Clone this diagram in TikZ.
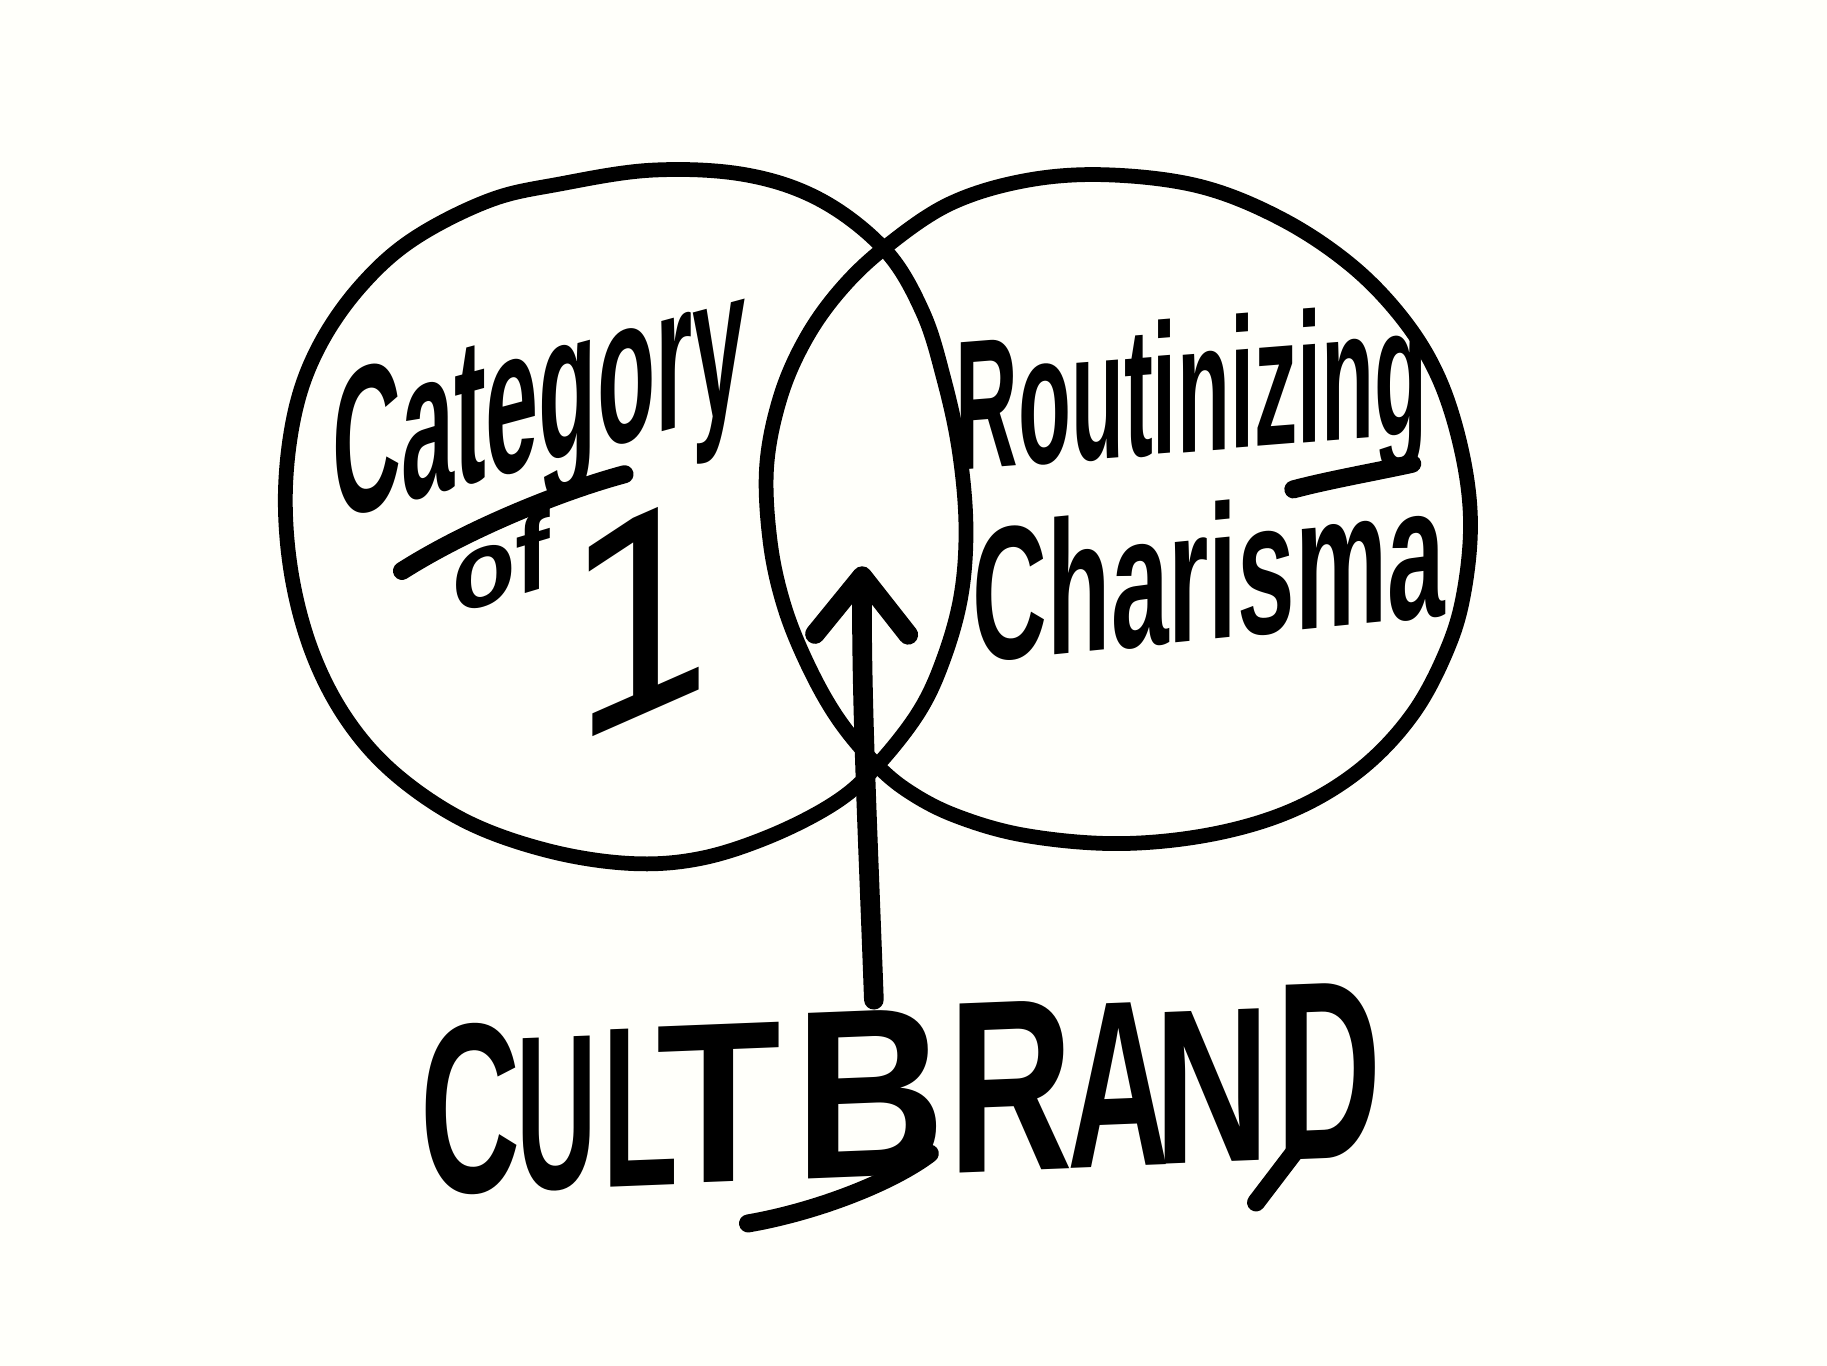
\documentclass[tikz,border=0pt]{standalone}
\usepackage{fontspec}
\setmainfont{Liberation Sans}
\newfontfamily\onefont{DejaVu Sans}
\usetikzlibrary{arrows.meta}
\definecolor{paper}{RGB}{255,255,250}
\newcommand{\lt}[3]{\resizebox{#1cm}{#2cm}{#3}}
\begin{document}
\begin{tikzpicture}[x=0.01cm,y=-0.01cm,
  ring/.style={line width=3.6pt, line join=round, line cap=round},
  word/.style={inner sep=0pt, outer sep=0pt, transform shape, font=\bfseries},
  pen/.style={line width=4.4pt, line cap=round, line join=round}]
\fill[paper] (0,0) rectangle (1568,1172);
\useasboundingbox (0,0) rectangle (1568,1172);
% left circle
\draw[ring] plot[smooth cycle, tension=0.6] coordinates {(480,158) (560,146) (640,150) (705,172) (760,215) (792,268) (810,325) (823,385) (829,450) (825,510) (810,565) (788,612) (750,660) (715,690) (660,718) (600,737) (540,741) (470,730) (400,705) (340,665) (298,618) (268,560) (250,492) (245,420) (254,350) (275,295) (310,245) (355,205) (420,172)};
% right circle
\draw[ring] plot[smooth cycle, tension=0.6] coordinates {(760,212) (815,175) (880,155) (950,150) (1030,160) (1100,188) (1160,228) (1205,275) (1235,325) (1254,385) (1262,445) (1257,505) (1243,555) (1213,612) (1168,660) (1110,695) (1040,716) (960,724) (880,717) (820,700) (778,678) (748,652) (718,615) (693,570) (673,520) (661,465) (658,400) (670,340) (692,290) (722,248)};
% texts
\node[word, anchor=base west, yslant=0.27] (cat) at (285,447) {\lt{3.55}{1.25}{Category}};
\node[word, anchor=base west, yslant=0.3] (of) at (388,528) {\lt{0.84}{0.68}{of}};
\node[word, font=\mdseries, anchor=base, yslant=0.44] (one) at (551,614) {\lt{1.38}{1.72}{\onefont 1}};
\node[word, anchor=base west, yslant=0.08] (rout) at (820,404) {\lt{4.05}{1.15}{Routinizing}};
\node[word, anchor=base west, yslant=0.1] (char) at (835,569) {\lt{4.05}{1.18}{Charisma}};
\node[word, anchor=base west, yslant=0.04] (brand) at (361,1025) {%
  \lt{0.86}{1.45}{C}\hspace{-0.04cm}\lt{0.69}{1.3}{U}\hspace{0.05cm}\lt{0.65}{1.35}{L}\hspace{-0.19cm}\lt{1.07}{1.35}{T}%
  \hspace{0.12cm}%
  \lt{1.3}{1.42}{B}\hspace{0.02cm}\lt{1.07}{1.45}{R}\hspace{-0.05cm}\lt{0.88}{1.4}{A}\hspace{-0.14cm}\lt{0.99}{1.3}{N}\hspace{0.06cm}\lt{0.9}{1.5}{D}};
% letter tails
\draw[pen] (536,407) .. controls (480,422) and (400,455) .. (345,490);
\draw[pen] (1212,398) .. controls (1180,405) and (1140,412) .. (1110,420);
\draw[pen] (798,990) .. controls (765,1015) and (700,1040) .. (642,1050);
\draw[pen] (1110,990) -- (1078,1032);
% arrow
\coordinate (tail) at (750,858);
\coordinate (tip) at (740,486);
\draw[pen, line width=4.8pt, -{Straight Barb[length=0.5cm, width=0.8cm, round]}] (tail) .. controls (745,720) and (739,600) .. (tip);
\end{tikzpicture}
\end{document}
